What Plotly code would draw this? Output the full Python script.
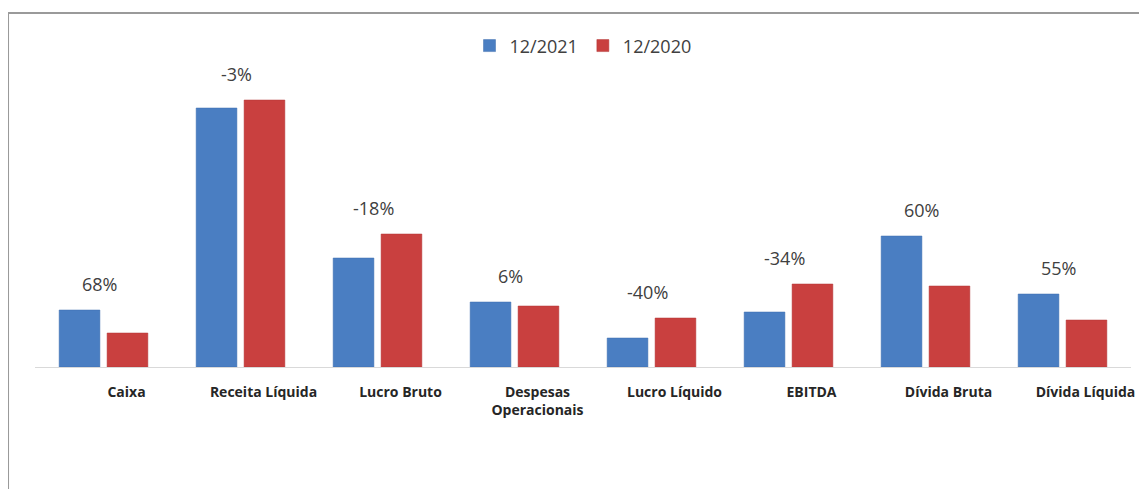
import plotly.graph_objects as go

categories = ["Caixa", "Receita Líquida", "Lucro Bruto", "Despesas<br>Operacionais",
              "Lucro Líquido", "EBITDA", "Dívida Bruta", "Dívida Líquida"]
series_2021 = [57, 259, 109, 65, 29, 55, 131, 73]
series_2020 = [34, 267, 133, 61, 49, 83, 81, 47]
change_labels = ["68%", "-3%", "-18%", "6%", "-40%", "-34%", "60%", "55%"]

BLUE = "#4A7EC2"
RED = "#C9403F"
TEXT = "#404040"
FONT = "Open Sans"

fig = go.Figure()
fig.add_trace(go.Bar(name="12/2021", x=categories, y=series_2021,
                     marker=dict(color=BLUE, line=dict(color="#3f6fae", width=0.5))))
fig.add_trace(go.Bar(name="12/2020", x=categories, y=series_2020,
                     marker=dict(color=RED, line=dict(color="#b33636", width=0.5))))

for cat, a, b, lab in zip(categories, series_2021, series_2020, change_labels):
    fig.add_annotation(x=cat, y=max(a, b), text=lab, showarrow=False,
                       yanchor="bottom", yshift=12, xshift=-4,
                       font=dict(family=FONT, size=18, color=TEXT))

# chart border (top and left edges visible in the crop)
fig.add_shape(type="line", xref="paper", yref="paper",
              x0=-0.0246, x1=1.02, y0=1.0826, y1=1.0826,
              line=dict(color="#9a9a9a", width=2))
fig.add_shape(type="line", xref="paper", yref="paper",
              x0=-0.0246, x1=-0.0246, y0=1.0826, y1=-0.40,
              line=dict(color="#9a9a9a", width=2))

fig.update_layout(
    width=1139, height=481,
    margin=dict(l=27, r=13, t=32, b=122),
    paper_bgcolor="white", plot_bgcolor="white",
    barmode="group", bargap=0.30, bargroupgap=0.15,
    legend=dict(orientation="h", x=0.5, xanchor="center", y=0.982, yanchor="middle",
                font=dict(family=FONT, size=18, color=TEXT), traceorder="normal",
                itemwidth=30),
    font=dict(family=FONT, color=TEXT),
)
fig.update_xaxes(showline=True, linecolor="#d9d9d9", linewidth=1, showgrid=False,
                 ticks="", tickfont=dict(family=FONT, size=14, color="#262626", weight="bold"),
                 ticklabelshift=23, ticklabelstandoff=12, fixedrange=True)
fig.update_yaxes(range=[0, 327], visible=False, showgrid=False, zeroline=False, fixedrange=True)

fig.write_html("out.html")
